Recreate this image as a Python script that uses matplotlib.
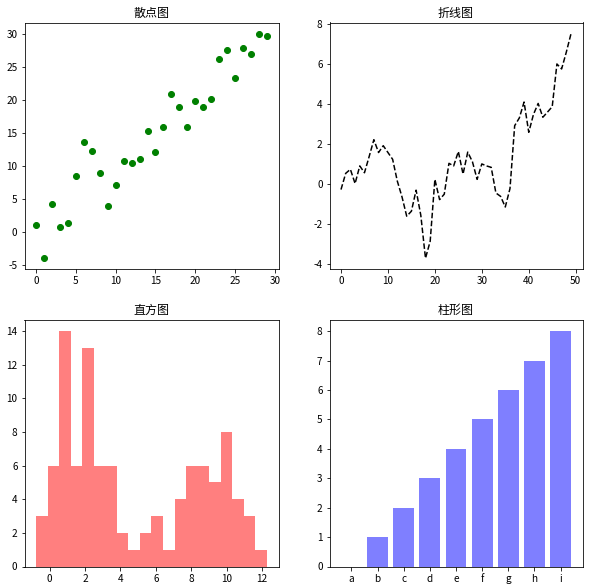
import matplotlib
matplotlib.use('Agg')
import matplotlib.pyplot as plt
import numpy as np

plt.rcParams['font.family'] = ['Noto Sans CJK SC', 'DejaVu Sans']
plt.rcParams['axes.unicode_minus'] = False

# 散点图数据
scatter_x = list(range(30))
scatter_y = [1.0, -4.0, 4.2, 0.7, 1.3, 8.5, 13.6, 12.2, 8.9, 3.9,
             7.1, 10.7, 10.4, 11.0, 15.3, 12.1, 15.9, 20.9, 18.9, 15.9,
             19.8, 18.9, 20.1, 26.2, 27.5, 23.3, 27.8, 26.9, 30.0, 29.7]

# 折线图数据
line_y = [-0.27, 0.54, 0.74, 0.03, 0.91, 0.57, 1.38, 2.22, 1.58, 1.92,
          1.58, 1.24, 0.15, -0.64, -1.60, -1.35, -0.30, -1.55, -3.70, -2.85,
          0.24, -0.77, -0.50, 1.04, 0.91, 1.63, 0.50, 1.60, 1.12, 0.24,
          1.01, 0.91, 0.84, -0.44, -0.61, -1.14, -0.22, 2.92, 3.31, 4.10,
          2.59, 3.48, 4.03, 3.34, 3.60, 3.87, 6.00, 5.75, 6.59, 7.51]
line_x = list(range(len(line_y)))

# 直方图数据 (每个区间的计数)
hist_counts = [3, 6, 14, 6, 13, 6, 6, 2, 1, 2, 3, 1, 4, 6, 6, 5, 8, 4, 3, 1]
hist_start = -0.76
hist_width = 0.652

# 柱形图数据
bar_labels = ['a', 'b', 'c', 'd', 'e', 'f', 'g', 'h', 'i']
bar_values = [0, 1, 2, 3, 4, 5, 6, 7, 8]

W, H = 589, 588
fig = plt.figure(figsize=(W / 72, H / 72), dpi=72)


def axes_px(left, top, right, bottom):
    return fig.add_axes([left / W, 1 - bottom / H, (right - left) / W, (bottom - top) / H])


ax1 = axes_px(24.5, 22.5, 278.5, 269.5)
ax2 = axes_px(329.5, 22.5, 582.5, 269.5)
ax3 = axes_px(24.5, 319.5, 278.5, 566.5)
ax4 = axes_px(329.5, 319.5, 582.5, 566.5)

ax1.scatter(scatter_x, scatter_y, color='green')
ax1.set_title('散点图')

ax2.plot(line_x, line_y, 'k--')
ax2.set_title('折线图')

edges = hist_start + hist_width * np.arange(len(hist_counts) + 1)
centers = (edges[:-1] + edges[1:]) / 2
ax3.hist(centers, bins=edges, weights=hist_counts, color='red', alpha=0.5)
ax3.set_title('直方图')

ax4.bar(bar_labels, bar_values, color='blue', alpha=0.5)
ax4.set_title('柱形图')

fig.savefig('out.png', dpi=72)
